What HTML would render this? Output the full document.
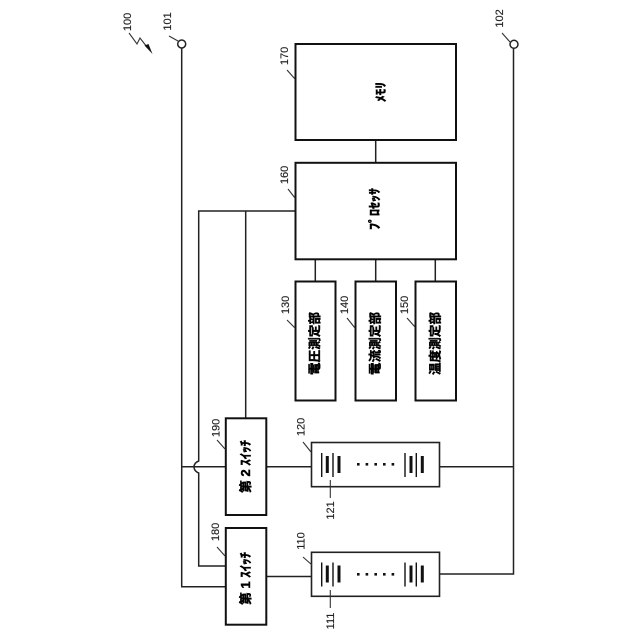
<!DOCTYPE html>
<html><head><meta charset="utf-8"><style>
html,body{margin:0;padding:0;background:#fff}
svg{display:block}
.n{font-family:"Liberation Sans",sans-serif;font-size:11px;fill:#222;stroke:#222;stroke-width:.15}
.j{font-family:"Liberation Sans","Noto Sans CJK JP",sans-serif;font-size:12.5px;font-weight:bold;fill:#000;stroke:#000;stroke-width:.45}
</style></head><body>
<svg width="640" height="640" viewBox="0 0 640 640" xmlns="http://www.w3.org/2000/svg">
<rect width="640" height="640" fill="#fff"/>
<g fill="none" stroke="#222" stroke-width="1.5">
<path d="M181.7 48V586.7H226"/>
<path d="M513.5 48V574H439.5M513.5 466.7H439.5"/>
<path d="M295 211H198.7V461Q194 463 194 467Q194 471 198.7 473V566H226"/>
<path d="M245.7 211V418"/>
<path d="M181.7 466.7H226M266 466.7H311.5M266 576.5H311.5"/>
<path d="M375.7 140V163M315.3 259V281M375.7 259V281M435.3 259V281"/>
<circle cx="181.7" cy="44" r="4" fill="#fff"/>
<circle cx="514" cy="44.3" r="4" fill="#fff"/>
</g>
<g fill="#fff" stroke="#111" stroke-width="2">
<rect x="295.5" y="44" width="160.5" height="96"/>
<rect x="295.5" y="162.8" width="160.5" height="96.5"/>
<rect x="295.5" y="281.5" width="40" height="119"/>
<rect x="355.5" y="281.5" width="40.5" height="119"/>
<rect x="415.5" y="281.5" width="40.5" height="119"/>
<rect x="225.8" y="418.3" width="40.5" height="96.7"/>
<rect x="225.8" y="528" width="40.5" height="96.7"/>
</g>
<g fill="#fff" stroke="#222" stroke-width="1.6">
<rect x="311.5" y="442.5" width="128" height="44.2"/>
<rect x="311.5" y="552.3" width="128" height="44"/>
</g>
<g stroke="#111" fill="none">
<path stroke-width="1.4" d="M321.7 453V477M333 453V477M405 453V477M416.3 453V477"/>
<path stroke-width="3" d="M327.3 456V473M339 456V473M411 456V473M422.3 456V473"/>
<path stroke-width="1.4" d="M321.7 562.5V586.5M333 562.5V586.5M405 562.5V586.5M416.3 562.5V586.5"/>
<path stroke-width="3" d="M327.3 565.5V582.5M339 565.5V582.5M411 565.5V582.5M422.3 565.5V582.5"/>
</g>
<g fill="#111">
<rect x="357" y="463" width="2.6" height="2.6"/><rect x="365.6" y="463" width="2.6" height="2.6"/><rect x="374.4" y="463" width="2.6" height="2.6"/><rect x="383" y="463" width="2.6" height="2.6"/><rect x="391.6" y="463" width="2.6" height="2.6"/>
<rect x="357" y="573" width="2.6" height="2.6"/><rect x="365.6" y="573" width="2.6" height="2.6"/><rect x="374.4" y="573" width="2.6" height="2.6"/><rect x="383" y="573" width="2.6" height="2.6"/><rect x="391.6" y="573" width="2.6" height="2.6"/>
</g>
<g fill="none" stroke="#333" stroke-width="1.1">
<path d="M287 70L295 79M288 189L295 198M287 320L295 328M347 318L355 328M407 318L415 327"/>
<path d="M169 36L178 41M502 33L510 42"/>
<path d="M217 440L225 449M217 547L225 556M303 442L311 452M303 557L312 565"/>
<path d="M330.3 480V498M330.3 590V608"/>
<path d="M129 33L137 44L140 38L147 47"/>
</g>
<path d="M144.5 45.5L148.5 44L152.5 54Z" fill="#111"/>
<g>
<text class="n" transform="translate(127,22) rotate(-90)" text-anchor="middle" y="4">100</text>
<text class="n" transform="translate(167,21.5) rotate(-90)" text-anchor="middle" y="4">101</text>
<text class="n" transform="translate(499,18.5) rotate(-90)" text-anchor="middle" y="4">102</text>
<text class="n" transform="translate(284,56) rotate(-90)" text-anchor="middle" y="4">170</text>
<text class="n" transform="translate(284,175) rotate(-90)" text-anchor="middle" y="4">160</text>
<text class="n" transform="translate(285,305) rotate(-90)" text-anchor="middle" y="4">130</text>
<text class="n" transform="translate(344,305) rotate(-90)" text-anchor="middle" y="4">140</text>
<text class="n" transform="translate(404,305) rotate(-90)" text-anchor="middle" y="4">150</text>
<text class="n" transform="translate(215.5,428) rotate(-90)" text-anchor="middle" y="4">190</text>
<text class="n" transform="translate(215,532) rotate(-90)" text-anchor="middle" y="4">180</text>
<text class="n" transform="translate(300.5,427) rotate(-90)" text-anchor="middle" y="4">120</text>
<text class="n" transform="translate(300.5,541) rotate(-90)" text-anchor="middle" y="4">110</text>
<text class="n" transform="translate(330,510.5) rotate(-90)" text-anchor="middle" y="4">121</text>
<text class="n" transform="translate(330,621) rotate(-90)" text-anchor="middle" y="4">111</text>
</g>
<text class="j" transform="translate(381,92) rotate(-90)" text-anchor="middle" y="4" textLength="20" lengthAdjust="spacingAndGlyphs">ﾒﾓﾘ</text>
<text class="j" transform="translate(375,209) rotate(-90)" text-anchor="middle" y="4" textLength="42" lengthAdjust="spacingAndGlyphs">ﾌﾟﾛｾｯｻ</text>
<text class="j" transform="translate(315,343.5) rotate(-90)" text-anchor="middle" y="4" textLength="63">電圧測定部</text>
<text class="j" transform="translate(375.5,343.5) rotate(-90)" text-anchor="middle" y="4" textLength="63">電流測定部</text>
<text class="j" transform="translate(435.5,343.5) rotate(-90)" text-anchor="middle" y="4" textLength="63">温度測定部</text>
<text class="j" transform="translate(246,466.5) rotate(-90)" text-anchor="middle" y="4" textLength="53" lengthAdjust="spacingAndGlyphs">第 2 ｽｲｯﾁ</text>
<text class="j" transform="translate(246,578.5) rotate(-90)" text-anchor="middle" y="4" textLength="53" lengthAdjust="spacingAndGlyphs">第 1 ｽｲｯﾁ</text>
</svg>
</body></html>
